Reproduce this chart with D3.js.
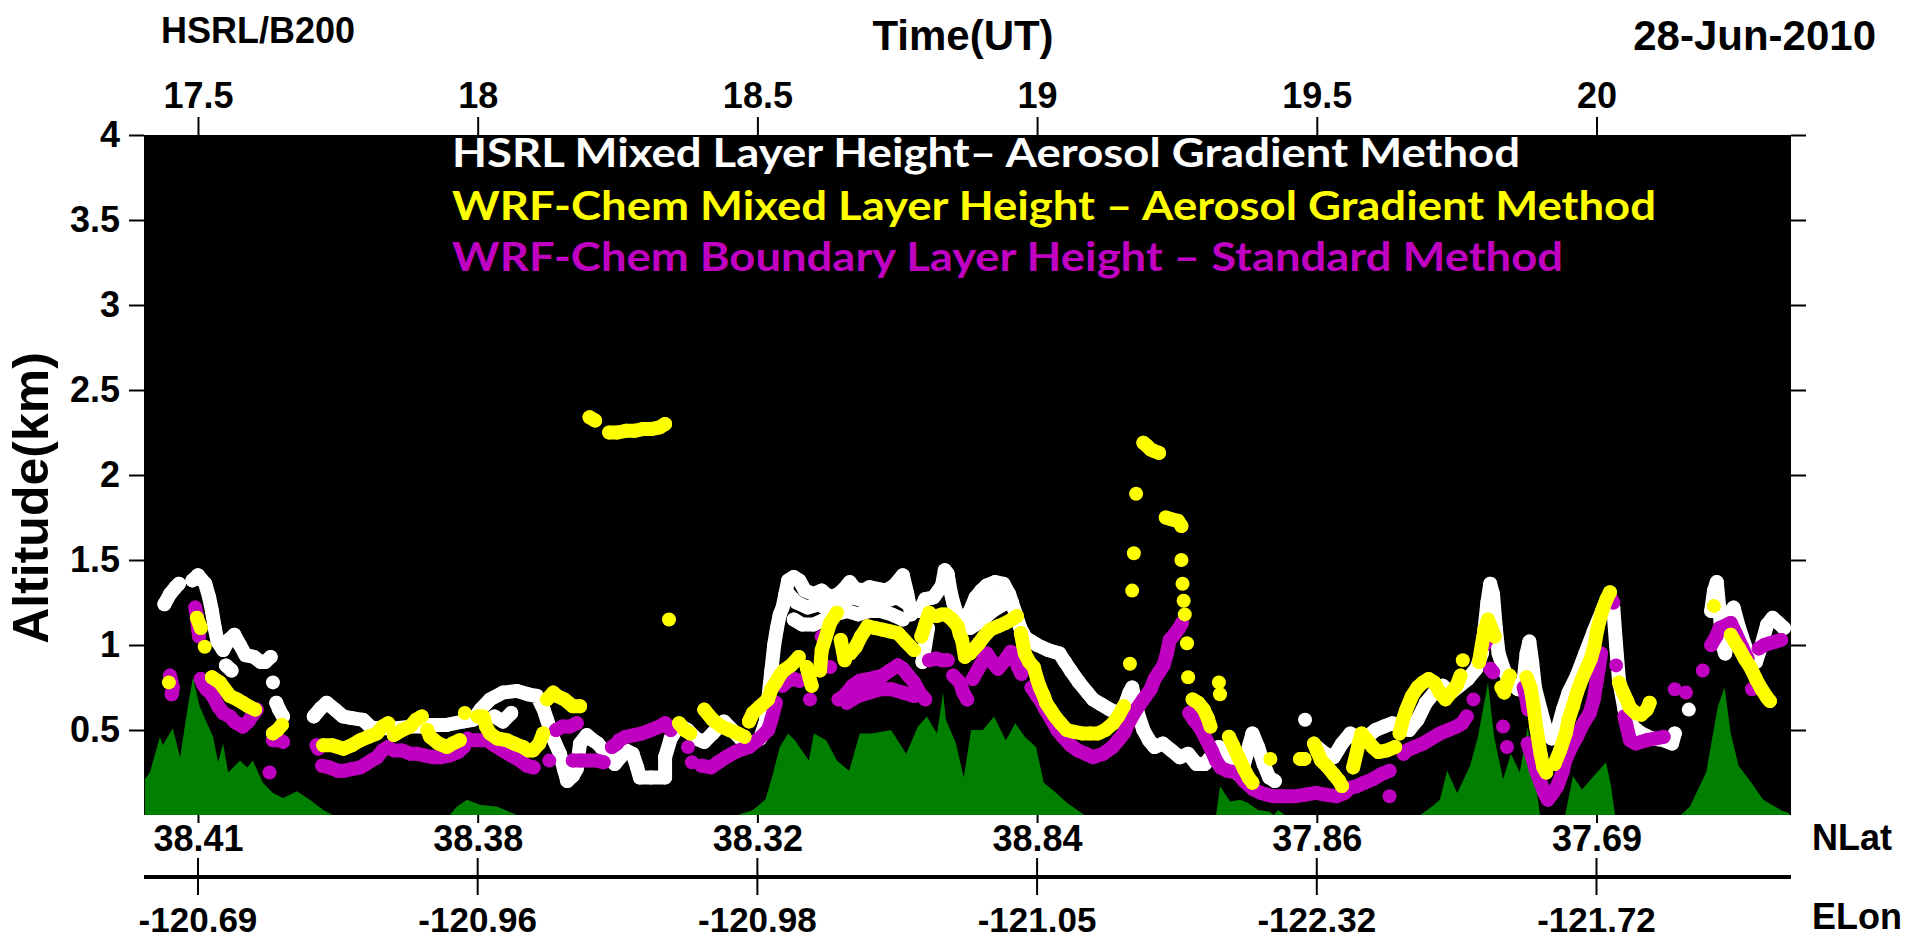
<!DOCTYPE html>
<html>
<head>
<meta charset="utf-8">
<script src="https://cdn.jsdelivr.net/npm/d3@7"></script>
<style>
body { margin: 0; background: #fff; }
svg text { font-family: "Liberation Sans", Arial, sans-serif; font-weight: bold; fill: #000; }
svg text.legend { font-family: Lato, "Open Sans", sans-serif; }
</style>
</head>
<body>
<svg id="chart" width="1915" height="943"></svg>
<script>
// time range of the flight track (UT hours)
var timeStart = 17.4035, timeEnd = 20.3477;

var tickTimes = [17.5, 18, 18.5, 19, 19.5, 20];
var nlatLabels = ["38.41", "38.38", "38.32", "38.84", "37.86", "37.69"];
var elonLabels = ["-120.69", "-120.96", "-120.98", "-121.05", "-122.32", "-121.72"];
var altTicks = [0.5, 1, 1.5, 2, 2.5, 3, 3.5, 4];

var legendText = [
    "HSRL Mixed Layer Height\u2013 Aerosol Gradient Method",
    "WRF-Chem Mixed Layer Height \u2013 Aerosol Gradient Method",
    "WRF-Chem Boundary Layer Height \u2013 Standard Method"
];

// ground elevation [time, km]
var groundAlt = [
    [17.405,0.21],[17.414,0.25],[17.432,0.46],[17.437,0.41],[17.455,0.51],[17.468,0.34],[17.482,0.64],
    [17.491,0.81],[17.503,0.64],[17.512,0.57],[17.527,0.46],[17.536,0.31],[17.545,0.42],[17.554,0.25],
    [17.575,0.32],[17.588,0.28],[17.598,0.32],[17.616,0.19],[17.634,0.13],[17.652,0.10],[17.677,0.14],
    [17.7,0.09],[17.724,0.03],[17.741,0],[17.95,0],[17.963,0.05],[17.981,0.09],[18.004,0.06],[18.034,0.05],
    [18.07,0],[18.465,0],[18.492,0.03],[18.514,0.09],[18.526,0.22],[18.54,0.40],[18.555,0.48],[18.567,0.44],
    [18.592,0.32],[18.601,0.48],[18.623,0.44],[18.642,0.32],[18.664,0.26],[18.683,0.48],[18.705,0.48],
    [18.739,0.50],[18.766,0.36],[18.787,0.52],[18.803,0.58],[18.821,0.48],[18.832,0.72],[18.837,0.56],
    [18.855,0.42],[18.869,0.22],[18.882,0.50],[18.903,0.50],[18.923,0.58],[18.944,0.44],[18.961,0.54],
    [18.978,0.46],[18.998,0.40],[19.012,0.19],[19.027,0.15],[19.054,0.07],[19.08,0.01],[19.084,0],
    [19.32,0],[19.327,0.17],[19.345,0.08],[19.363,0.09],[19.377,0.07],[19.395,0.03],[19.415,0.02],
    [19.423,0],[19.431,0.03],[19.443,0],[19.685,0],[19.706,0.05],[19.72,0.09],[19.733,0.26],[19.751,0.13],
    [19.774,0.29],[19.788,0.46],[19.806,0.78],[19.817,0.46],[19.833,0.21],[19.847,0.36],[19.863,0.25],
    [19.877,0.52],[19.892,0.17],[19.899,0],[19.944,0],[19.958,0.23],[19.974,0.15],[19.995,0.23],
    [20.017,0.31],[20.026,0.17],[20.033,0],[20.151,0],[20.167,0.05],[20.196,0.25],[20.217,0.64],
    [20.229,0.75],[20.24,0.48],[20.254,0.29],[20.277,0.19],[20.298,0.09],[20.329,0.03],[20.345,0.01]
];

// HSRL mixed layer height, runs of [time, km]
var hsrlMLH = [
    [[17.44,1.24],[17.45,1.30],[17.46,1.34],[17.466,1.36]],
    [[17.49,1.38],[17.50,1.41],[17.513,1.36],[17.52,1.28],[17.525,1.2],[17.53,1.1],[17.535,1.02],[17.545,0.97],
     [17.555,1.03],[17.565,1.06],[17.575,1.0],[17.585,0.94],[17.6,0.93],[17.612,0.9],[17.62,0.9],[17.63,0.93]],
    [[17.55,0.88],[17.56,0.85]],
    [[17.634,0.78]],
    [[17.64,0.66],[17.645,0.62],[17.652,0.58]],
    [[17.707,0.58],[17.72,0.63],[17.73,0.66],[17.745,0.62],[17.759,0.58],[17.775,0.57],[17.795,0.56],[17.808,0.52],
     [17.83,0.51],[17.856,0.51],[17.88,0.52],[17.9,0.52],[17.915,0.53],[17.945,0.53],[17.974,0.55],[17.992,0.56],
     [18.005,0.62],[18.022,0.68],[18.045,0.72],[18.07,0.73],[18.09,0.71],[18.106,0.7],[18.118,0.62],[18.124,0.56],
     [18.135,0.45],[18.147,0.36],[18.155,0.26],[18.16,0.2],[18.17,0.23],[18.177,0.27],[18.183,0.42],[18.195,0.47],
     [18.206,0.44],[18.215,0.42],[18.23,0.36],[18.245,0.3],[18.255,0.34],[18.265,0.38],[18.277,0.36],[18.285,0.28],
     [18.29,0.22],[18.31,0.22],[18.335,0.22],[18.335,0.34],[18.345,0.45],[18.36,0.53],[18.375,0.5],[18.39,0.45],
     [18.405,0.43],[18.42,0.48],[18.44,0.55],[18.455,0.5],[18.47,0.45],[18.49,0.42],[18.505,0.45],[18.515,0.55],
     [18.52,0.7],[18.525,0.85],[18.53,1.0],[18.535,1.1],[18.54,1.18],[18.545,1.22],[18.55,1.3],[18.555,1.38],
     [18.565,1.4],[18.575,1.38],[18.585,1.32],[18.6,1.3],[18.615,1.32],[18.63,1.28],[18.645,1.3],[18.655,1.33],
     [18.665,1.37],[18.675,1.33],[18.69,1.32],[18.7,1.34],[18.715,1.33],[18.73,1.32],[18.745,1.35],[18.76,1.41],
     [18.768,1.3],[18.775,1.18]],
    [[18.03,0.58],[18.045,0.55],[18.06,0.6]],
    [[18.555,1.3],[18.57,1.25],[18.59,1.22],[18.61,1.24],[18.63,1.2],[18.65,1.26],[18.67,1.28],[18.69,1.26],
     [18.71,1.27],[18.73,1.26],[18.75,1.28],[18.765,1.25]],
    [[18.565,1.15],[18.58,1.12],[18.6,1.12],[18.62,1.15],[18.64,1.18],[18.66,1.2],[18.68,1.18],[18.7,1.2],
     [18.72,1.2],[18.74,1.18],[18.76,1.15]],
    [[18.79,1.2],[18.8,1.27],[18.815,1.28],[18.83,1.35],[18.835,1.44],[18.84,1.42],[18.845,1.32],[18.85,1.25],
     [18.86,1.15],[18.87,1.12],[18.88,1.2],[18.89,1.28],[18.9,1.32],[18.91,1.35],[18.925,1.37],[18.94,1.36],
     [18.95,1.3],[18.96,1.2],[18.97,1.1],[18.98,1.04],[18.99,1.02],[19.0,1.0],[19.02,0.97],[19.04,0.95],
     [19.05,0.9],[19.06,0.85],[19.075,0.78],[19.09,0.72],[19.1,0.68],[19.115,0.65],[19.13,0.62],[19.145,0.6],
     [19.155,0.63],[19.165,0.72],[19.17,0.75],[19.18,0.6],[19.19,0.5],[19.2,0.44],[19.21,0.4],[19.225,0.42],
     [19.24,0.38],[19.255,0.34],[19.27,0.36],[19.285,0.3],[19.3,0.3],[19.315,0.36],[19.325,0.4],[19.335,0.36],
     [19.345,0.28],[19.36,0.24],[19.37,0.3],[19.38,0.42],[19.385,0.48],[19.395,0.4],[19.405,0.3],[19.415,0.22],
     [19.425,0.2]],
    [[18.795,0.9],[18.8,1.0],[18.805,1.1]],
    [[18.88,1.1],[18.9,1.14],[18.92,1.2],[18.94,1.24]],
    [[18.875,1.18],[18.9,1.24],[18.92,1.28],[18.94,1.3],[18.955,1.25]],
    [[19.479,0.56]],
    [[19.5,0.4],[19.515,0.36],[19.53,0.34],[19.545,0.42],[19.56,0.48],[19.575,0.44],[19.59,0.46],[19.605,0.5],
     [19.62,0.52],[19.635,0.54],[19.65,0.52],[19.665,0.5],[19.68,0.56],[19.695,0.66],[19.71,0.72],[19.725,0.76],
     [19.74,0.72],[19.755,0.76],[19.77,0.8],[19.785,0.86],[19.795,0.95],[19.8,1.1],[19.805,1.25],[19.81,1.36],
     [19.815,1.3],[19.82,1.1],[19.825,0.95],[19.835,0.85],[19.845,0.78],[19.86,0.74],[19.87,0.8],[19.875,0.95],
     [19.88,1.02],[19.885,0.9],[19.89,0.75],[19.9,0.62],[19.91,0.5],[19.92,0.45],[19.93,0.5],[19.94,0.62],
     [19.95,0.72],[19.965,0.82],[19.98,0.95],[19.995,1.08],[20.01,1.2],[20.02,1.28],[20.03,1.22],[20.035,1.0],
     [20.04,0.8],[20.05,0.62],[20.065,0.52],[20.08,0.48],[20.1,0.45],[20.12,0.44],[20.135,0.42],[20.14,0.48]],
    [[20.165,0.62]],
    [[20.205,1.2],[20.21,1.32],[20.215,1.37],[20.22,1.2],[20.225,1.0],[20.23,0.95],[20.24,1.2],[20.245,1.22],
     [20.255,1.1],[20.265,1.0],[20.275,0.92],[20.285,0.9],[20.295,1.0],[20.305,1.12],[20.315,1.16],[20.325,1.13],
     [20.335,1.1]]
];

// WRF-Chem mixed layer height (aerosol gradient)
var wrfMLH = [
    [[17.448,0.78]],
    [[17.498,1.16],[17.505,1.1]],
    [[17.512,0.99]],
    [[17.525,0.81],[17.539,0.78],[17.557,0.7],[17.57,0.68],[17.58,0.66],[17.59,0.64],[17.602,0.62]],
    [[17.634,0.48],[17.642,0.5],[17.65,0.53]],
    [[17.724,0.41],[17.74,0.41],[17.76,0.39],[17.775,0.41],[17.79,0.44],[17.805,0.46],[17.82,0.48],[17.83,0.52],[17.84,0.54]],
    [[17.85,0.47],[17.865,0.5],[17.879,0.52],[17.89,0.56],[17.9,0.58]],
    [[17.91,0.5],[17.915,0.46],[17.93,0.42],[17.945,0.4],[17.955,0.42],[17.968,0.44]],
    [[17.977,0.6]],
    [[18.0,0.58],[18.01,0.58],[18.015,0.52],[18.022,0.48],[18.035,0.45],[18.052,0.44],[18.065,0.42],[18.081,0.4],
     [18.09,0.38],[18.099,0.38],[18.11,0.42],[18.117,0.48]],
    [[18.124,0.68],[18.135,0.72],[18.142,0.7],[18.155,0.68],[18.17,0.64],[18.183,0.64]],
    [[18.2,2.34],[18.21,2.32]],
    [[18.235,2.25],[18.25,2.25],[18.265,2.26],[18.28,2.26],[18.295,2.27],[18.31,2.27],[18.325,2.28],[18.335,2.3]],
    [[18.342,1.15]],
    [[18.36,0.54],[18.37,0.5],[18.38,0.48]],
    [[18.405,0.62],[18.42,0.56],[18.436,0.52],[18.45,0.5],[18.465,0.48],[18.477,0.46]],
    [[18.485,0.55],[18.492,0.6],[18.505,0.64],[18.519,0.68],[18.525,0.74],[18.533,0.78],[18.54,0.82],[18.547,0.85],
     [18.56,0.88],[18.574,0.93]],
    [[18.588,0.87],[18.597,0.76]],
    [[18.612,0.85],[18.615,0.97],[18.63,1.13],[18.642,1.19]],
    [[18.649,1.03],[18.656,0.91]],
    [[18.666,0.95],[18.676,0.99],[18.685,1.05],[18.697,1.11],[18.71,1.1],[18.724,1.09],[18.737,1.08],[18.751,1.07],
     [18.765,1.02],[18.78,0.97]],
    [[18.793,1.05],[18.8,1.12],[18.807,1.19]],
    [[18.82,1.17],[18.83,1.18],[18.837,1.18],[18.848,1.15],[18.858,1.11],[18.862,1.06],[18.866,1.03],[18.871,0.93]],
    [[18.88,0.95],[18.896,1.01],[18.905,1.05],[18.916,1.09],[18.93,1.11],[18.944,1.13],[18.955,1.15],[18.964,1.17]],
    [[18.971,1.07],[18.975,1.0],[18.978,0.95],[18.986,0.9],[18.994,0.87],[19.0,0.8],[19.005,0.75],[19.012,0.7],
     [19.016,0.66],[19.024,0.62],[19.032,0.58],[19.042,0.54],[19.053,0.5],[19.065,0.49],[19.08,0.48],[19.095,0.48],
     [19.109,0.48],[19.122,0.5],[19.136,0.54],[19.145,0.58],[19.155,0.64]],
    [[19.166,0.89]], [[19.17,1.32]], [[19.173,1.54]], [[19.177,1.89]],
    [[19.19,2.19],[19.197,2.17],[19.203,2.15],[19.21,2.14],[19.218,2.13]],
    [[19.23,1.75],[19.24,1.74],[19.252,1.73],[19.258,1.7]],
    [[19.258,1.5]], [[19.26,1.36]], [[19.262,1.26]], [[19.264,1.18]], [[19.268,1.01]], [[19.27,0.81]],
    [[19.278,0.68],[19.288,0.66],[19.298,0.62],[19.305,0.57],[19.31,0.52]],
    [[19.325,0.78]], [[19.327,0.71]],
    [[19.343,0.46],[19.35,0.41],[19.36,0.34],[19.37,0.27],[19.378,0.22],[19.385,0.19]],
    [[19.417,0.33]],
    [[19.47,0.33],[19.478,0.33]],
    [[19.495,0.42],[19.5,0.38],[19.508,0.32],[19.52,0.28],[19.53,0.24],[19.54,0.2],[19.545,0.17]],
    [[19.565,0.28],[19.575,0.42],[19.58,0.48],[19.59,0.44],[19.6,0.4],[19.61,0.37],[19.625,0.38],[19.64,0.4]],
    [[19.648,0.48],[19.654,0.56],[19.66,0.62],[19.67,0.7],[19.68,0.75],[19.69,0.78],[19.7,0.8],[19.71,0.78],
     [19.72,0.72],[19.73,0.68],[19.74,0.72],[19.75,0.76],[19.757,0.82]],
    [[19.761,0.91]],
    [[19.79,0.9],[19.795,1.0],[19.8,1.09],[19.806,1.15],[19.812,1.1],[19.818,1.05]],
    [[19.83,0.75],[19.835,0.72],[19.84,0.78],[19.845,0.82]],
    [[19.875,0.81],[19.882,0.75],[19.887,0.65],[19.892,0.52],[19.897,0.42],[19.9,0.36],[19.905,0.28],[19.91,0.25]],
    [[19.925,0.3],[19.935,0.38],[19.945,0.48],[19.95,0.56],[19.958,0.64],[19.965,0.72],[19.974,0.8],[19.982,0.86],
     [19.99,0.92],[19.996,0.99],[20.002,1.1],[20.01,1.2],[20.018,1.27],[20.024,1.31]],
    [[20.04,0.78],[20.048,0.72],[20.055,0.67],[20.06,0.63],[20.07,0.6],[20.08,0.59],[20.09,0.62],[20.095,0.66]],
    [[20.21,1.23]],
    [[20.24,1.06],[20.247,1.02],[20.255,0.98],[20.265,0.92],[20.275,0.87],[20.285,0.8],[20.295,0.74],[20.305,0.69],[20.31,0.67]]
];

// WRF-Chem boundary layer height (standard method)
var wrfBLH = [
    [[17.45,0.82],[17.455,0.75],[17.453,0.71]],
    [[17.495,1.22],[17.498,1.17],[17.5,1.1],[17.502,1.05]],
    [[17.505,0.8],[17.509,0.77],[17.515,0.74],[17.522,0.72],[17.53,0.68],[17.536,0.64],[17.545,0.6],[17.557,0.58],
     [17.565,0.55],[17.57,0.54],[17.58,0.52],[17.59,0.55],[17.6,0.6],[17.605,0.62]],
    [[17.628,0.25]],
    [[17.634,0.44],[17.645,0.44],[17.652,0.43]],
    [[17.712,0.41],[17.715,0.39]],
    [[17.722,0.29],[17.735,0.28],[17.75,0.26],[17.76,0.26],[17.775,0.27],[17.79,0.28],[17.8,0.3],[17.81,0.32],
     [17.82,0.34],[17.83,0.38],[17.84,0.4]],
    [[17.85,0.38],[17.865,0.38],[17.88,0.36],[17.892,0.36],[17.905,0.35],[17.92,0.34],[17.935,0.34],[17.95,0.35],
     [17.965,0.37],[17.975,0.4],[17.982,0.45]],
    [[17.995,0.44],[18.008,0.44],[18.017,0.44],[18.03,0.41],[18.045,0.38],[18.06,0.35],[18.076,0.32],[18.088,0.29],[18.1,0.28]],
    [[18.128,0.32]],
    [[18.14,0.5],[18.152,0.52],[18.165,0.52],[18.177,0.54]],
    [[18.17,0.32],[18.185,0.32],[18.2,0.32],[18.213,0.32],[18.225,0.31]],
    [[18.24,0.4],[18.249,0.42],[18.253,0.44],[18.265,0.46],[18.28,0.47],[18.294,0.48],[18.31,0.5],[18.325,0.52],
     [18.335,0.54],[18.345,0.5]],
    [[18.376,0.4]], [[18.383,0.31]],
    [[18.4,0.29],[18.417,0.28],[18.43,0.31],[18.444,0.34],[18.46,0.37],[18.475,0.39],[18.485,0.4],[18.5,0.44],
     [18.51,0.47],[18.519,0.5],[18.525,0.56],[18.533,0.66]],
    [[18.545,0.76],[18.555,0.79],[18.565,0.8],[18.575,0.79]],
    [[18.594,0.68]], [[18.615,1.05]], [[18.63,0.87]],
    [[18.645,0.68],[18.655,0.7],[18.67,0.76],[18.683,0.79],[18.7,0.8],[18.712,0.81],[18.724,0.82],[18.737,0.85],
     [18.751,0.88],[18.76,0.86],[18.77,0.82],[18.78,0.78],[18.79,0.72],[18.8,0.68]],
    [[18.66,0.66],[18.68,0.7],[18.7,0.72],[18.72,0.74],[18.74,0.74],[18.76,0.72],[18.78,0.7]],
    [[18.807,0.91],[18.82,0.92],[18.83,0.91],[18.84,0.91]],
    [[18.85,0.82],[18.862,0.78],[18.868,0.72],[18.875,0.68]],
    [[18.885,0.8],[18.895,0.86],[18.905,0.92],[18.91,0.95],[18.92,0.9],[18.93,0.86],[18.94,0.9],[18.953,0.96],
     [18.96,0.92],[18.966,0.87],[18.972,0.83]],
    [[18.99,0.75],[19.0,0.7],[19.005,0.68],[19.015,0.62],[19.026,0.56],[19.036,0.5],[19.046,0.46],[19.06,0.41],
     [19.073,0.38],[19.087,0.36],[19.1,0.34],[19.118,0.36],[19.135,0.4],[19.145,0.44],[19.155,0.48],[19.165,0.55],
     [19.177,0.62],[19.19,0.68],[19.203,0.74],[19.21,0.8],[19.218,0.84],[19.226,0.88],[19.232,0.95],[19.237,1.03],
     [19.245,1.06],[19.254,1.1],[19.259,1.13]],
    [[19.272,0.6],[19.28,0.56],[19.29,0.52],[19.3,0.46],[19.312,0.38],[19.32,0.32],[19.328,0.28],[19.34,0.26],
     [19.357,0.25],[19.37,0.2],[19.387,0.15],[19.4,0.13],[19.41,0.12],[19.423,0.11],[19.44,0.11],[19.46,0.11],
     [19.48,0.12],[19.498,0.13],[19.515,0.12],[19.535,0.11],[19.55,0.13],[19.56,0.16],[19.572,0.17],[19.585,0.19],
     [19.6,0.21],[19.615,0.24],[19.63,0.26]],
    [[19.63,0.11]],
    [[19.655,0.36],[19.661,0.38],[19.675,0.4],[19.69,0.42],[19.705,0.45],[19.72,0.48],[19.735,0.5],[19.75,0.52],
     [19.76,0.54],[19.768,0.58]],
    [[19.78,0.68]], [[19.8,1.0]], [[19.805,1.03]],
    [[19.81,0.86],[19.815,0.84]],
    [[19.833,0.52]], [[19.84,0.4]],
    [[19.87,0.75],[19.875,0.68],[19.878,0.62]],
    [[19.877,0.42],[19.885,0.34],[19.892,0.26],[19.9,0.19],[19.907,0.13],[19.913,0.09],[19.92,0.12],[19.93,0.17],
     [19.94,0.26],[19.944,0.32],[19.955,0.4],[19.965,0.46],[19.975,0.53],[19.988,0.6],[19.995,0.68],[20.0,0.78],
     [20.004,0.86],[20.008,0.95]],
    [[20.025,1.28],[20.03,1.25]],
    [[20.035,0.88]],
    [[20.05,0.58],[20.054,0.52],[20.06,0.44],[20.07,0.42],[20.08,0.43],[20.09,0.44],[20.105,0.45],[20.12,0.46]],
    [[20.14,0.74]], [[20.16,0.72]], [[20.19,0.85]],
    [[20.205,1.0],[20.214,1.05],[20.22,1.1],[20.24,1.13],[20.25,1.06],[20.26,0.99],[20.27,0.92]],
    [[20.278,0.74]],
    [[20.29,0.98],[20.3,1.0],[20.31,1.01],[20.32,1.02],[20.33,1.03]]
];

var plot = {left: 144, right: 1791, top: 135, bottom: 815};
var dotR = 7;

var x = d3.scaleLinear().domain([timeStart, timeEnd]).range([plot.left, plot.right]);
var y = d3.scaleLinear().domain([0, 4]).range([plot.bottom, plot.top]);

var svg = d3.select("#chart");

svg.append("defs").append("clipPath").attr("id", "plotClip")
    .append("rect")
    .attr("x", plot.left).attr("y", plot.top)
    .attr("width", plot.right - plot.left).attr("height", plot.bottom - plot.top);

svg.append("rect")
    .attr("x", plot.left).attr("y", plot.top)
    .attr("width", plot.right - plot.left).attr("height", plot.bottom - plot.top)
    .attr("fill", "#000");

var inner = svg.append("g").attr("clip-path", "url(#plotClip)");

// ground elevation
var groundArea = d3.area()
    .x(function(d) { return x(d[0]); })
    .y0(y(0))
    .y1(function(d) { return y(d[1]); });

inner.append("path")
    .datum(groundAlt)
    .attr("d", groundArea)
    .attr("fill", "#007f00");

var runLine = d3.line()
    .x(function(d) { return x(d[0]); })
    .y(function(d) { return y(d[1]); });

function drawSeries(runs, color) {
    var g = inner.append("g");
    g.selectAll("path")
        .data(runs.filter(function(r) { return r.length > 1; }))
        .join("path")
        .attr("d", runLine)
        .attr("fill", "none")
        .attr("stroke", color)
        .attr("stroke-width", dotR * 2)
        .attr("stroke-linecap", "round")
        .attr("stroke-linejoin", "round");
    g.selectAll("circle")
        .data(runs.flat())
        .join("circle")
        .attr("cx", function(d) { return x(d[0]); })
        .attr("cy", function(d) { return y(d[1]); })
        .attr("r", dotR)
        .attr("fill", color);
}

drawSeries(hsrlMLH, "#ffffff");
drawSeries(wrfBLH, "#c000c0");
drawSeries(wrfMLH, "#ffff00");

// legend inside the plot
var legendColors = ["#ffffff", "#ffff00", "#c000c0"];
var legendBase = [167, 220, 271];
var legendWidth = [1068, 1204, 1111];
svg.selectAll("text.legend")
    .data(legendText)
    .join("text")
    .attr("class", "legend")
    .attr("x", 452)
    .attr("y", function(d, i) { return legendBase[i]; })
    .attr("textLength", function(d, i) { return legendWidth[i]; })
    .attr("lengthAdjust", "spacingAndGlyphs")
    .style("font-size", "40px")
    .style("fill", function(d, i) { return legendColors[i]; })
    .text(function(d) { return d; });

// top time axis
var topAxis = svg.append("g")
    .attr("transform", "translate(0," + plot.top + ")")
    .call(d3.axisTop(x).tickValues(tickTimes).tickFormat(d3.format("")).tickSize(18).tickPadding(9));
topAxis.select(".domain").remove();

// left and right altitude axes
var leftAxis = svg.append("g")
    .attr("transform", "translate(" + plot.left + ",0)")
    .call(d3.axisLeft(y).tickValues(altTicks).tickFormat(d3.format("")).tickSize(15).tickPadding(9));
leftAxis.select(".domain").remove();

var rightAxis = svg.append("g")
    .attr("transform", "translate(" + plot.right + ",0)")
    .call(d3.axisRight(y).tickValues(altTicks).tickFormat("").tickSize(15));
rightAxis.select(".domain").remove();

// bottom latitude axis
var latAxis = svg.append("g")
    .attr("transform", "translate(0," + plot.bottom + ")")
    .call(d3.axisBottom(x).tickValues(tickTimes)
        .tickFormat(function(d, i) { return nlatLabels[i]; })
        .tickSize(8).tickPadding(2));
latAxis.select(".domain").remove();

[topAxis, leftAxis, rightAxis, latAxis].forEach(function(a) {
    a.selectAll("line").attr("stroke", "#000").attr("stroke-width", 2);
    a.selectAll("text").style("font-size", "36px");
});

// longitude axis
var lonY = 877;
svg.append("line")
    .attr("x1", plot.left).attr("x2", plot.right)
    .attr("y1", lonY).attr("y2", lonY)
    .attr("stroke", "#000").attr("stroke-width", 4);
svg.selectAll("line.lonTick")
    .data(tickTimes)
    .join("line")
    .attr("class", "lonTick")
    .attr("x1", function(d) { return x(d); }).attr("x2", function(d) { return x(d); })
    .attr("y1", lonY - 19).attr("y2", lonY + 18)
    .attr("stroke", "#000").attr("stroke-width", 2);
svg.selectAll("text.lonLabel")
    .data(tickTimes)
    .join("text")
    .attr("class", "lonLabel")
    .attr("x", function(d) { return x(d); })
    .attr("y", 932)
    .attr("text-anchor", "middle")
    .style("font-size", "35px")
    .text(function(d, i) { return elonLabels[i]; });

// titles and axis names
svg.append("text").attr("x", 161).attr("y", 43).style("font-size", "36px").text("HSRL/B200");
svg.append("text").attr("x", 963).attr("y", 50).attr("text-anchor", "middle").style("font-size", "42px").text("Time(UT)");
svg.append("text").attr("x", 1876).attr("y", 50).attr("text-anchor", "end").style("font-size", "42px").text("28-Jun-2010");
svg.append("text").attr("x", 1812).attr("y", 850).style("font-size", "36px").text("NLat");
svg.append("text").attr("x", 1812).attr("y", 929).style("font-size", "36px").text("ELon");
svg.append("text")
    .attr("transform", "translate(48,498) rotate(-90)")
    .attr("text-anchor", "middle")
    .style("font-size", "50px")
    .text("Altitude(km)");
</script>
</body>
</html>
